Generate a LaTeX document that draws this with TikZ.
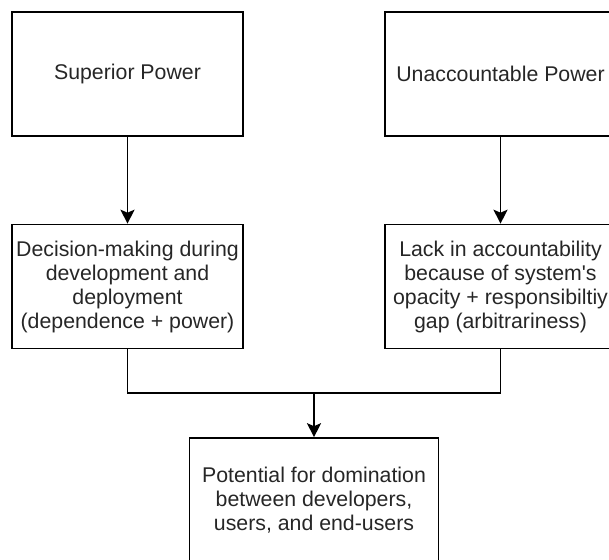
\documentclass[tikz,border=0pt]{standalone}
\usepackage{fontspec}
\setmainfont{Liberation Sans}
\usetikzlibrary{arrows.meta}
\definecolor{txt}{HTML}{262626}
\begin{document}
\begin{tikzpicture}[x=1pt,y=1pt,
  box/.style={draw=black, line width=1.6pt, minimum width=231pt, minimum height=124pt,
    align=center, inner sep=0pt, text=txt, font=\fontsize{21.3}{24}\selectfont},
  conn/.style={draw=black, line width=1.6pt},
  arr/.style={conn, -{Stealth[length=14pt,width=14pt,inset=3pt]}}]
\useasboundingbox (0,0) rectangle (609,559);
\clip (0,0) rectangle (609,559);
\node[box] (sup) at (127.5,485) {Superior Power};
\node[box] (una) at (500.5,485) {Unaccountable Power};
\node[box] (dec) at (127.5,272.5) {Decision-making during\\development and\\deployment\\(dependence + power)};
\node[box] (lack) at (500.5,272.5) {Lack in accountability\\because of system\textquotesingle s\\opacity + responsibiltiy\\gap (arbitrariness)};
\node[box, minimum width=249pt] (pot) at (314,59) {Potential for domination\\between developers,\\users, and end-users};
\draw[arr] (sup) -- (dec);
\draw[arr] (una) -- (lack);
\coordinate (j) at (314,166);
\draw[conn] (dec.south) |- (j) -| (lack.south);
\draw[arr] (j) -- (pot.north);
\end{tikzpicture}
\end{document}
